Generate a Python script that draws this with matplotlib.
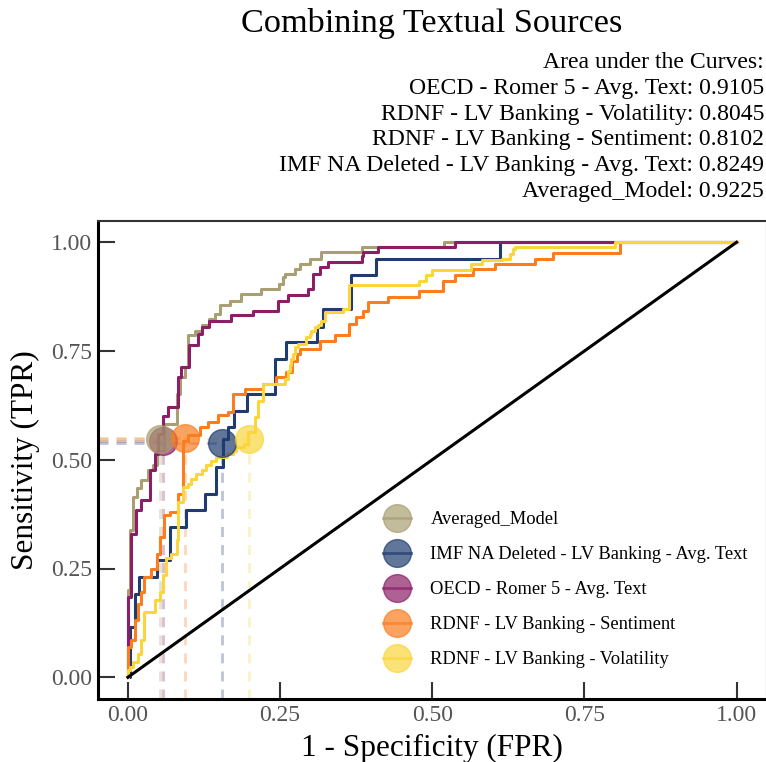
import matplotlib
matplotlib.use("Agg")
from matplotlib import pyplot as plt
from matplotlib.lines import Line2D

plt.rcParams['font.family'] = ['Liberation Serif', 'DejaVu Serif']

# model names (legend order) and colours
names = ["Averaged_Model",
         "IMF NA Deleted - LV Banking - Avg. Text",
         "OECD - Romer 5 - Avg. Text",
         "RDNF - LV Banking - Sentiment",
         "RDNF - LV Banking - Volatility"]
colors = ["#a99f72", "#1f3c70", "#8c1e66", "#fb7d1e", "#fad63c"]

# AUC values in the order of the header text
auc_names = ["OECD - Romer 5 - Avg. Text",
             "RDNF - LV Banking - Volatility",
             "RDNF - LV Banking - Sentiment",
             "IMF NA Deleted - LV Banking - Avg. Text",
             "Averaged_Model"]
auc_values = [0.9105, 0.8045, 0.8102, 0.8249, 0.9225]

# ROC corner points (fpr, tpr)
fpr_avg = [0, 0, 0.003, 0.008, 0.015, 0.022, 0.033, 0.041, 0.047, 0.060,
           0.080, 0.085, 0.093, 0.099, 0.110, 0.121, 0.134, 0.143, 0.151, 0.167,
           0.186, 0.219, 0.249, 0.255, 0.258, 0.274, 0.282, 0.299, 0.318, 0.384,
           0.520, 1.0]
tpr_avg = [0, 0.20, 0.338, 0.414, 0.435, 0.453, 0.476, 0.487, 0.52, 0.583,
           0.652, 0.690, 0.713, 0.786, 0.797, 0.809, 0.824, 0.835, 0.855, 0.866,
           0.881, 0.893, 0.904, 0.920, 0.927, 0.939, 0.950, 0.962, 0.977, 0.989,
           1.0, 1.0]

fpr_imf = [0, 0.003, 0.011, 0.019, 0.047, 0.069, 0.096, 0.126, 0.145, 0.156,
           0.164, 0.175, 0.195, 0.241, 0.260, 0.310, 0.321, 0.367, 0.408, 0.611,
           1.0]
tpr_imf = [0, 0.116, 0.192, 0.230, 0.269, 0.345, 0.384, 0.422, 0.483, 0.548,
           0.575, 0.613, 0.652, 0.732, 0.770, 0.805, 0.847, 0.924, 0.962, 1.0,
           1.0]

fpr_oecd = [0, 0, 0.0055, 0.0138, 0.022, 0.036, 0.044, 0.049, 0.058, 0.066,
            0.082, 0.088, 0.101, 0.115, 0.121, 0.134, 0.170, 0.205, 0.247, 0.263,
            0.296, 0.304, 0.315, 0.329, 0.384, 0.387, 0.411, 0.537, 1.0]
tpr_oecd = [0, 0.184, 0.330, 0.384, 0.407, 0.476, 0.514, 0.560, 0.600, 0.621,
            0.690, 0.713, 0.763, 0.790, 0.805, 0.820, 0.832, 0.843, 0.866, 0.878,
            0.893, 0.927, 0.943, 0.954, 0.969, 0.977, 0.989, 1.0, 1.0]

fpr_sent = [0, 0, 0.0056, 0.011, 0.016, 0.022, 0.027, 0.038, 0.047, 0.052,
            0.060, 0.069, 0.082, 0.090, 0.099, 0.118, 0.131, 0.148, 0.164, 0.173,
            0.192, 0.222, 0.244, 0.260, 0.269, 0.277, 0.282, 0.315, 0.340, 0.364,
            0.375, 0.386, 0.394, 0.427, 0.479, 0.518, 0.537, 0.567, 0.603, 0.668,
            0.699, 0.808, 1.0]
tpr_sent = [0, 0.070, 0.085, 0.131, 0.169, 0.196, 0.230, 0.250, 0.284, 0.322,
            0.372, 0.380, 0.422, 0.544, 0.556, 0.575, 0.587, 0.602, 0.610, 0.652,
            0.663, 0.675, 0.690, 0.701, 0.728, 0.744, 0.755, 0.774, 0.786, 0.813,
            0.828, 0.843, 0.862, 0.874, 0.889, 0.912, 0.924, 0.939, 0.950, 0.962,
            0.975, 1.0, 1.0]

fpr_vol = [0, 0, 0.003, 0.008, 0.016, 0.022, 0.027, 0.044, 0.052, 0.058,
           0.063, 0.071, 0.080, 0.082, 0.090, 0.099, 0.104, 0.112, 0.121, 0.129,
           0.137, 0.145, 0.162, 0.173, 0.178, 0.190, 0.197, 0.208, 0.214, 0.222,
           0.258, 0.263, 0.266, 0.268, 0.271, 0.274, 0.279, 0.293, 0.299, 0.301,
           0.307, 0.312, 0.318, 0.323, 0.353, 0.364, 0.479, 0.490, 0.500, 0.564,
           0.581, 0.614, 0.627, 0.633, 0.636, 0.800, 1.0]
tpr_vol = [0, 0.016, 0.024, 0.035, 0.054, 0.085, 0.150, 0.177, 0.196, 0.234,
           0.273, 0.284, 0.315, 0.403, 0.437, 0.445, 0.456, 0.468, 0.476, 0.487,
           0.498, 0.506, 0.514, 0.521, 0.529, 0.537, 0.564, 0.598, 0.636, 0.675,
           0.686, 0.705, 0.717, 0.732, 0.744, 0.759, 0.767, 0.782, 0.790, 0.797,
           0.805, 0.809, 0.820, 0.839, 0.847, 0.901, 0.912, 0.924, 0.937, 0.950,
           0.960, 0.962, 0.973, 0.985, 0.989, 1.0, 1.0]

fprs = [fpr_avg, fpr_imf, fpr_oecd, fpr_sent, fpr_vol]
tprs = [tpr_avg, tpr_imf, tpr_oecd, tpr_sent, tpr_vol]

# chosen threshold points
op_fpr = [0.052, 0.155, 0.057, 0.093, 0.1995]
op_tpr = [0.548, 0.539, 0.543, 0.549, 0.548]

fig = plt.figure(figsize=(7.66, 7.62), dpi=100)
ax = fig.add_axes([97.5 / 766, 63 / 762, 669.5 / 766, 478.5 / 762])
ax.set_xlim(-0.05, 1.05)
ax.set_ylim(-0.05, 1.05)

# dashed guides to the threshold points
for x, y, c in zip(op_fpr, op_tpr, colors):
    ax.plot([x, x], [-0.05, y], color=c, lw=2, alpha=0.3, dashes=(3.6, 2.9))
    ax.plot([-0.05, x], [y, y], color=c, lw=2, alpha=0.3, dashes=(3.6, 2.9))

for f, t, c in zip(fprs, tprs, colors):
    ax.plot(f, t, color=c, lw=2.2, drawstyle='steps-post')

ax.plot([0, 1], [0, 1], color='black', lw=2.2)

# purple point first so the averaged model sits on top of it
for i in [2, 0, 1, 3, 4]:
    ax.plot(op_fpr[i], op_tpr[i], 'o', ms=20, color=colors[i], alpha=0.7)

handles = [Line2D([], [], color=c, lw=2, marker='o', ms=20, alpha=0.7)
           for c in colors]
ax.legend(handles, names, loc='upper left', bbox_to_anchor=(0.427, 0.392),
          frameon=False, fontsize=13.3, handlelength=1.5, handletextpad=1.05,
          labelspacing=0.97, borderpad=0, borderaxespad=0)

ax.set_xticks([0, 0.25, 0.5, 0.75, 1.0])
ax.set_yticks([0, 0.25, 0.5, 0.75, 1.0])
ax.set_xticklabels(["0.00", "0.25", "0.50", "0.75", "1.00"])
ax.set_yticklabels(["0.00", "0.25", "0.50", "0.75", "1.00"])
ax.tick_params(direction='in', length=12, width=1.5, color='#333333',
               labelsize=17, labelcolor='#555555', pad=4)

for side in ['left', 'bottom']:
    ax.spines[side].set_linewidth(2.2)
    ax.spines[side].set_color('black')
for side in ['top', 'right']:
    ax.spines[side].set_linewidth(1.5)
    ax.spines[side].set_color('#333333')

ax.set_xlabel("1 - Specificity (FPR)", fontsize=22.5, labelpad=6)
ax.set_ylabel("Sensitivity (TPR)", fontsize=22.5, labelpad=8)

fig.text(432 / 766, 1 - 31.7 / 762, "Combining Textual Sources",
         fontsize=24.7, ha='center', va='baseline')

header = ["Area under the Curves:"] + [
    "%s: %.4f" % (n, v) for n, v in zip(auc_names, auc_values)]
for i, line in enumerate(header):
    fig.text(764 / 766, 1 - (68.3 + 25.7 * i) / 762, line,
             fontsize=17.1, ha='right', va='baseline')

fig.savefig("out.png", dpi=100)
